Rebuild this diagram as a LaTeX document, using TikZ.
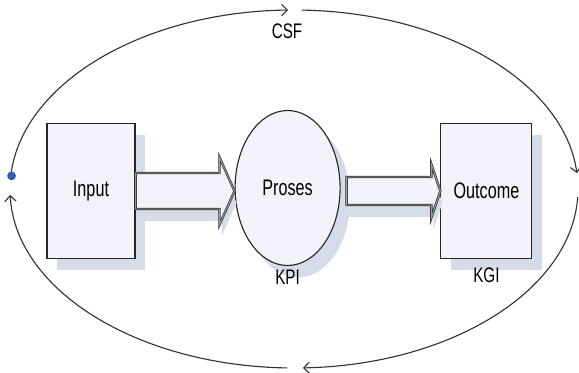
\documentclass[tikz,border=0pt]{standalone}
\usepackage{fontspec}
\newfontfamily\lblfont[FakeStretch=0.72]{Liberation Sans}
\usetikzlibrary{positioning,calc,shadows,arrows.meta,shapes.geometric}

\definecolor{boxfill}{RGB}{242,243,250}
\definecolor{shade}{RGB}{212,220,234}
\definecolor{dotblue}{RGB}{47,98,170}

\tikzset{
  stage/.style={draw=black!85, line width=.8pt, fill=boxfill, inner sep=0pt,
    font={\lblfont\fontsize{16}{19}\selectfont},
    drop shadow={shadow xshift=2.5mm, shadow yshift=-3mm, fill=shade, opacity=1}},
  tag/.style={font={\lblfont\fontsize{15}{18}\selectfont}, inner sep=0pt},
  blockarrow/.style={draw=black!80, line width=.5pt, double=black!40, double distance=.7pt,
    fill=boxfill, line join=miter,
    drop shadow={shadow xshift=.5mm, shadow yshift=-3mm, fill=shade, opacity=1}},
  flow/.style={draw=black!80, line width=.8pt, -{Straight Barb[length=4pt,width=8pt]}},
  dot/.style={circle, fill=dotblue, inner sep=0pt, minimum size=2.2mm}
}

\begin{document}
\begin{tikzpicture}
\useasboundingbox (0,0) rectangle (14.475,9.3);

% the three stages
\node[stage, minimum width=2.2cm, minimum height=3.375cm] (in) at (2.275,4.525) {Input};
\node[stage, ellipse, minimum width=2.625cm, minimum height=3.875cm] (pr) at (7.19,4.6) {Proses};
\node[stage, minimum width=2.275cm, minimum height=3.375cm] (out) at (12.16,4.525) {Outcome};

\node[tag, below=1mm of pr] (kpi) {KPI};
\node[tag, below=2mm of out] (kgi) {KGI};

% fat arrows between the stages
\coordinate (a1) at (in.east -| pr.west);
\coordinate (a2) at (pr.east |- out.west);
\draw[blockarrow] ($(in.east)+(0,.45)$) -- ($(a1)+(-.375,.45)$) -- ++(0,.39) -- (a1)
  -- ($(a1)+(-.375,-.84)$) -- ++(0,.39) -- ($(in.east)+(0,-.45)$) -- cycle;
\draw[blockarrow] ($(a2)+(.15,.35)$) -- ($(out.west)+(-.225,.35)$) -- ++(0,.32) -- (out.west)
  -- ($(out.west)+(-.225,-.67)$) -- ++(0,.32) -- ($(a2)+(.15,-.35)$) -- cycle;

% outer loop
\coordinate (c) at (7.35,4.575);
\foreach \s/\e in {176.5/91.2, 88.4/5.1, -2.6/-88.2, -91.4/-178.1}
  \draw[flow] (c) ++(\s:7.1 and 4.475) arc[start angle=\s, end angle=\e, x radius=7.1, y radius=4.475];
\node[dot] (start) at ($(c)+(175.8:7.08 and 4.475)$) {};
\node[tag] (csf) at (7.175,8.525) {CSF};
\end{tikzpicture}
\end{document}
